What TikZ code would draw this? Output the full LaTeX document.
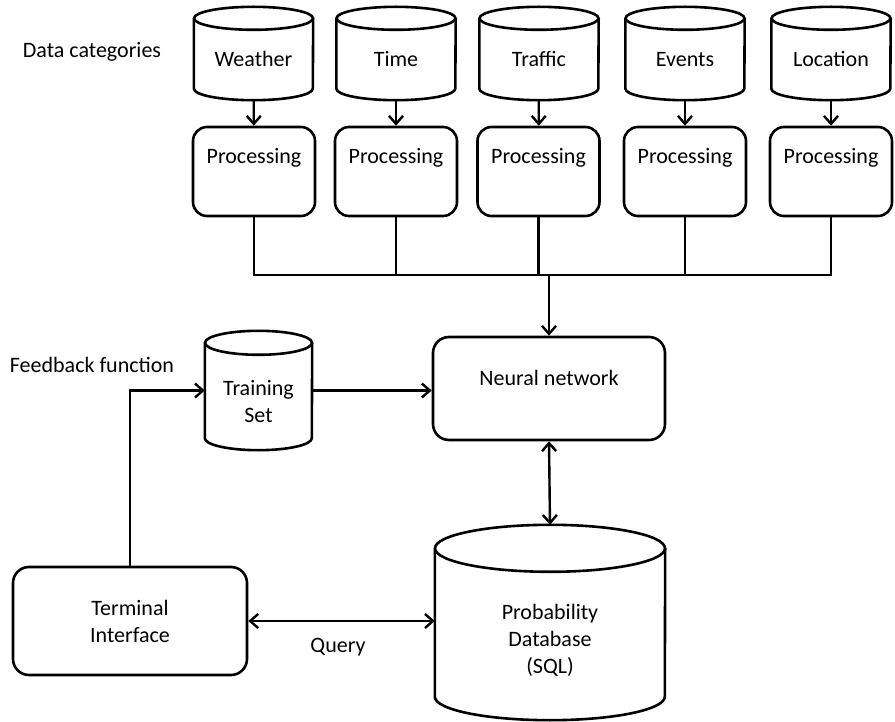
\documentclass[tikz,border=0pt]{standalone}
\usepackage{fontspec}
\setmainfont{Carlito}
\usetikzlibrary{arrows.meta}

% outline of a cylinder around a node: #1 node, #2 x radius, #3 cap radius
\newcommand\cylinderoutline[3]{%
  \draw[line width=2.6pt] ([yshift=-#3]#1.north west) -- ([yshift=#3]#1.south west)
    arc[start angle=180,end angle=360,x radius=#2,y radius=#3]
    -- ([yshift=-#3]#1.north east);
  \draw[line width=2.6pt] ([yshift=-#3]#1.north) ellipse[x radius=#2,y radius=#3];
}

\tikzset{
  db/.style={inner sep=0pt,align=center},
  srcdb/.style={db,minimum width=119pt,minimum height=93pt,text height=31pt,text depth=4pt},
  procbox/.style={draw,line width=2.6pt,rounded corners=14pt,minimum width=122pt,
    minimum height=89pt,text height=14pt,text depth=29pt,inner sep=0pt},
  conn/.style={line width=2.4pt,-{Straight Barb[length=8pt,width=14pt,line width=2.4pt]}},
  biconn/.style={line width=2.4pt,{Straight Barb[length=8pt,width=14pt,line width=2.4pt]}-{Straight Barb[length=8pt,width=14pt,line width=2.4pt]}},
}

\begin{document}
\begin{tikzpicture}[x=1pt,y=-1pt,font=\fontsize{22}{27}\selectfont]
\useasboundingbox (0,0) rectangle (895,722);

% data sources
\node[srcdb] (wea) at (253.5,53.5) {Weather};
\node[srcdb] (tim) at (396,53.5) {Time};
\node[srcdb] (tra) at (539,53.5) {Traffic};
\node[srcdb] (eve) at (685,53.5) {Events};
\node[srcdb] (loc) at (831,53.5) {Location};

\foreach \src/\x [count=\i] in {wea/254,tim/396,tra/538.5,eve/685,loc/831}{
  \cylinderoutline{\src}{59.5pt}{11.5pt}
  \node[procbox] (p\i) at (\x,171.5) {Processing};
  \draw[conn] (\src) -- (p\i);
}

\node[draw,line width=2.6pt,rounded corners=16pt,minimum width=232pt,minimum height=103pt,
  text height=14pt,text depth=21pt,inner sep=0pt] (nn) at (549,388.5) {Neural network};

\coordinate (bus) at (nn.north |- 0,275);
\draw[line width=2.4pt] (p1.south) |- (p5.south |- bus) -- (p5.south);
\foreach \i in {2,3,4}
  \draw[line width=2.4pt] (p\i.south) -- (p\i.south |- bus);
\draw[conn] (bus) -- (nn);

\node[db,minimum width=107pt,minimum height=119pt] (train) at (258.5,390.5) {};
\cylinderoutline{train}{53.5pt}{12pt}
\node[db] (traintext) at ([yshift=-11pt]train.center) {Training\\Set};
\node[db,minimum width=230pt,minimum height=195pt] (prob) at (550,622.5) {};
\cylinderoutline{prob}{115pt}{23.5pt}
\node[db] (probtext) at ([yshift=-17.5pt]prob.center) {Probability\\Database\\(SQL)};
\node[draw,line width=2.6pt,rounded corners=16pt,minimum width=234pt,minimum height=108pt,
  align=center,inner sep=0pt] (term) at (130,621) {Terminal\\Interface};

\draw[conn] (term.north) |- (train.west);
\draw[conn] (train.east) -- (train.east -| nn.west);
\draw[biconn] (nn.south) -- (prob.north);
\draw[biconn] (term.east) -- (term.east -| prob.west);

% labels
\node (datacat) at (92,52) {Data categories};
\node (feedback) at (92,365) {Feedback function};
\node (query) at (338,647) {Query};
\end{tikzpicture}
\end{document}
